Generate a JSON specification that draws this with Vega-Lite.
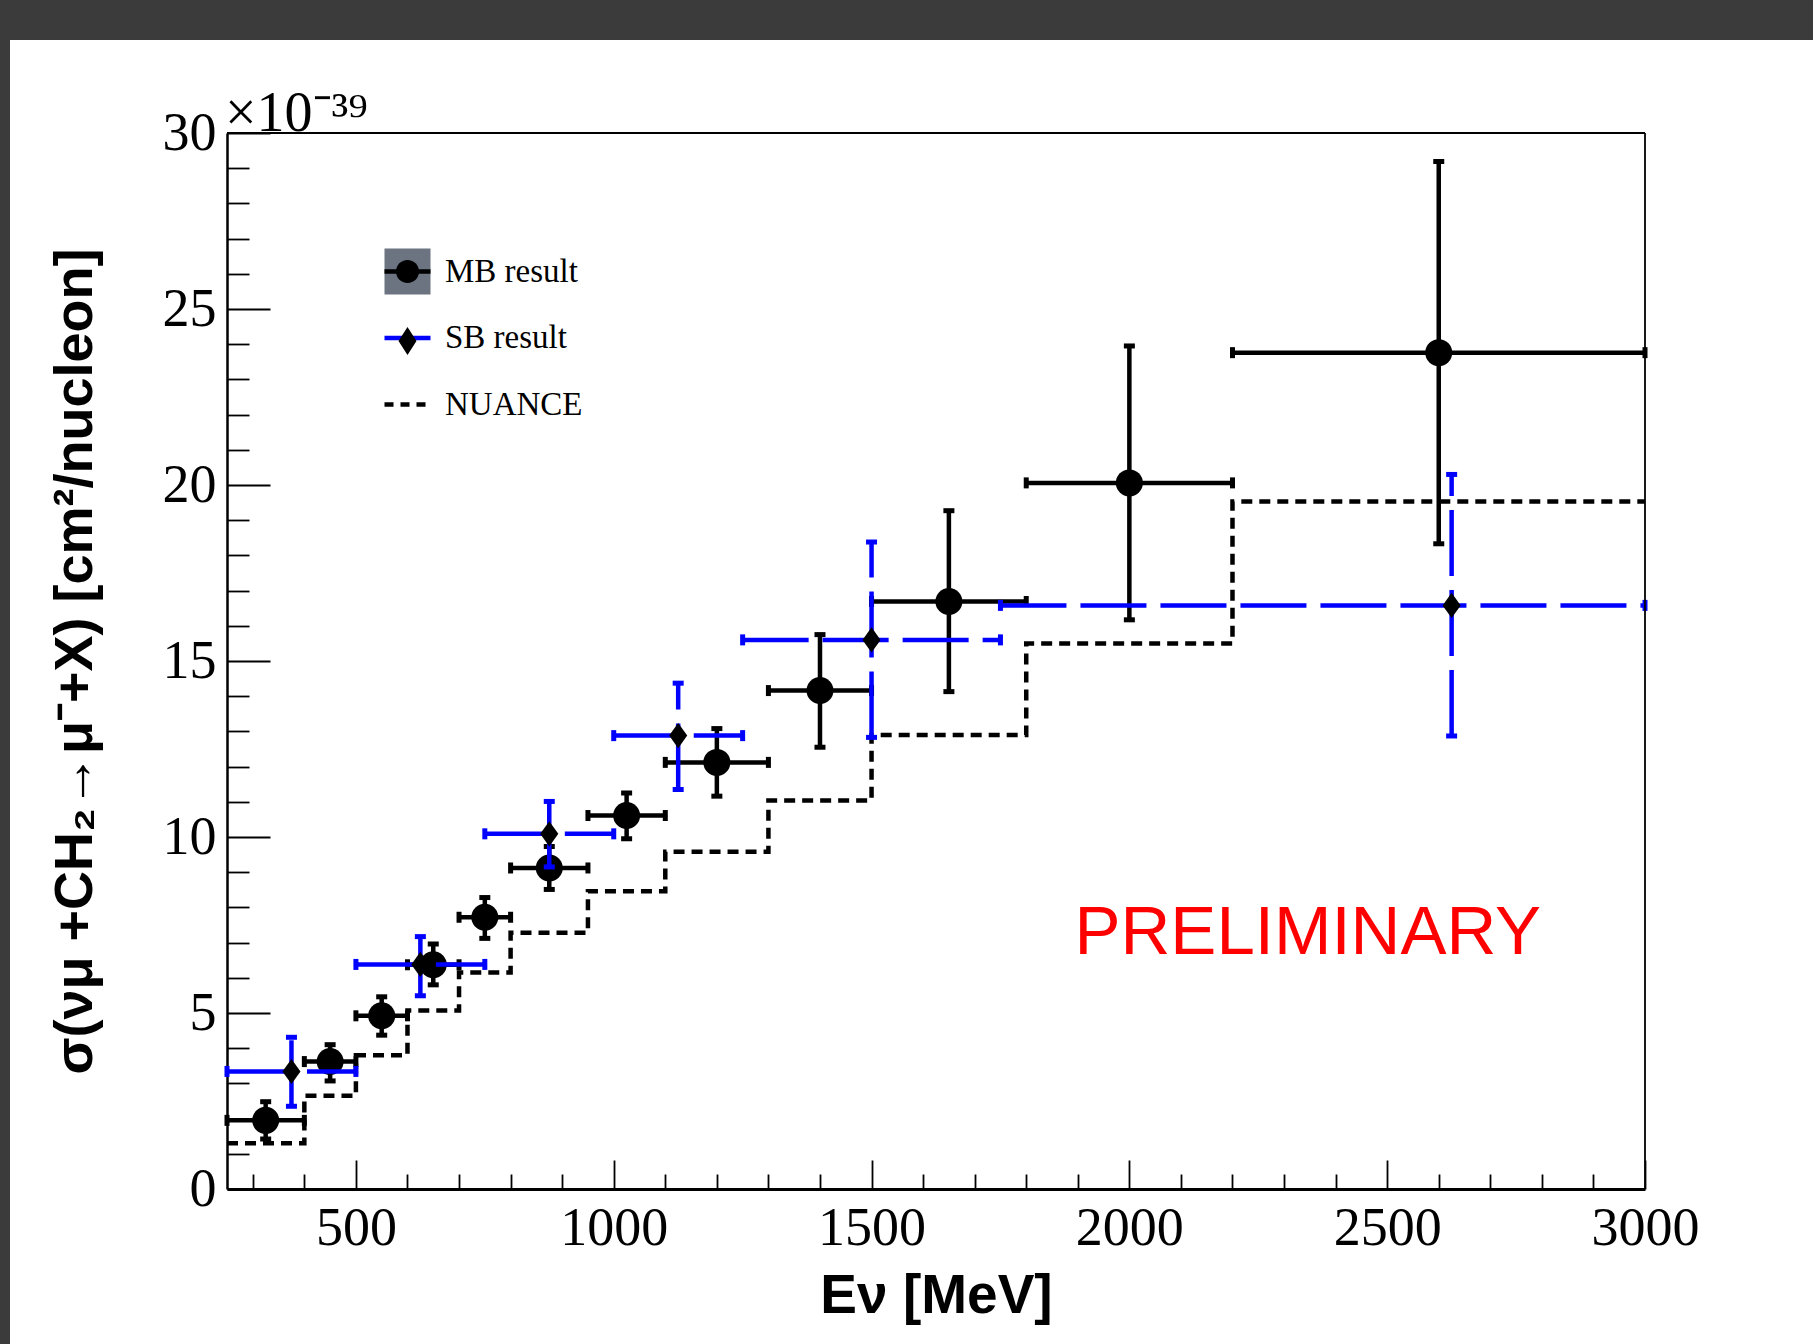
{
  "$schema": "https://vega.github.io/schema/vega-lite/v6.json",
  "width": 1803,
  "height": 1304,
  "autosize": {"type": "none"},
  "padding": {"left": 10, "top": 40, "right": 0, "bottom": 0},
  "background": "#3b3b3b",
  "title": {"text": "×10⁻³⁹", "anchor": "start", "frame": "group", "dx": 215, "offset": -147, "baseline": "alphabetic", "font": "Liberation Serif", "fontSize": 56, "fontWeight": "normal", "color": "#000000"},
  "config": {
    "view": {"fill": "#ffffff", "stroke": null},
    "axis": {"grid": false, "domainColor": "#000000", "tickColor": "#000000", "tickWidth": 1.8, "labelFont": "Liberation Serif", "labelColor": "#000000", "titleFont": "Liberation Sans", "titleFontWeight": "bold", "titleColor": "#000000", "labelFlush": false, "labelOverlap": false, "labelBound": false},
    "legend": {"labelFont": "Liberation Serif", "labelFontSize": 33, "labelColor": "#000000", "symbolSize": 2116, "rowPadding": 23.5, "labelOffset": 12, "padding": 0, "symbolStrokeWidth": 4.5}
  },
  "datasets": {
    "nuance": [
      {"series": "NUANCE", "E": 250, "sigma": 1.30},
      {"series": "NUANCE", "E": 400, "sigma": 2.65},
      {"series": "NUANCE", "E": 500, "sigma": 3.80},
      {"series": "NUANCE", "E": 600, "sigma": 5.07},
      {"series": "NUANCE", "E": 700, "sigma": 6.15},
      {"series": "NUANCE", "E": 800, "sigma": 7.28},
      {"series": "NUANCE", "E": 950, "sigma": 8.46},
      {"series": "NUANCE", "E": 1100, "sigma": 9.58},
      {"series": "NUANCE", "E": 1300, "sigma": 11.04},
      {"series": "NUANCE", "E": 1500, "sigma": 12.90},
      {"series": "NUANCE", "E": 1800, "sigma": 15.50},
      {"series": "NUANCE", "E": 2200, "sigma": 19.53},
      {"series": "NUANCE", "E": 3000, "sigma": 19.53}
    ],
    "res": [
      {"series": "MB result", "E": 325, "lo": 250, "hi": 400, "sigma": 1.95, "slo": 1.42, "shi": 2.48},
      {"series": "MB result", "E": 450, "lo": 400, "hi": 500, "sigma": 3.62, "slo": 3.07, "shi": 4.10},
      {"series": "MB result", "E": 550, "lo": 500, "hi": 600, "sigma": 4.92, "slo": 4.37, "shi": 5.46},
      {"series": "MB result", "E": 650, "lo": 600, "hi": 700, "sigma": 6.37, "slo": 5.80, "shi": 6.96},
      {"series": "MB result", "E": 750, "lo": 700, "hi": 800, "sigma": 7.72, "slo": 7.12, "shi": 8.28},
      {"series": "MB result", "E": 875, "lo": 800, "hi": 950, "sigma": 9.12, "slo": 8.51, "shi": 9.73},
      {"series": "MB result", "E": 1025, "lo": 950, "hi": 1100, "sigma": 10.61, "slo": 9.95, "shi": 11.25},
      {"series": "MB result", "E": 1200, "lo": 1100, "hi": 1300, "sigma": 12.12, "slo": 11.16, "shi": 13.08},
      {"series": "MB result", "E": 1400, "lo": 1300, "hi": 1500, "sigma": 14.16, "slo": 12.55, "shi": 15.75},
      {"series": "MB result", "E": 1650, "lo": 1500, "hi": 1800, "sigma": 16.69, "slo": 14.13, "shi": 19.27},
      {"series": "MB result", "E": 2000, "lo": 1800, "hi": 2200, "sigma": 20.06, "slo": 16.17, "shi": 23.95},
      {"series": "MB result", "E": 2600, "lo": 2200, "hi": 3000, "sigma": 23.76, "slo": 18.33, "shi": 29.19},
      {"series": "SB result", "E": 375, "lo": 250, "hi": 500, "sigma": 3.34, "slo": 2.35, "shi": 4.31},
      {"series": "SB result", "E": 625, "lo": 500, "hi": 750, "sigma": 6.38, "slo": 5.49, "shi": 7.17},
      {"series": "SB result", "E": 875, "lo": 750, "hi": 1000, "sigma": 10.09, "slo": 9.15, "shi": 11.01},
      {"series": "SB result", "E": 1125, "lo": 1000, "hi": 1250, "sigma": 12.88, "slo": 11.35, "shi": 14.37},
      {"series": "SB result", "E": 1500, "lo": 1250, "hi": 1750, "sigma": 15.60, "slo": 12.83, "shi": 18.38},
      {"series": "SB result", "E": 2625, "lo": 1750, "hi": 3000, "sigma": 16.58, "slo": 12.87, "shi": 20.30}
    ],
    "notes": [
      {"label": "PRELIMINARY", "E": 2346, "sigma": 6.67}
    ]
  },
  "layer": [
    {
      "data": {"name": "nuance"},
      "mark": {"type": "line", "interpolate": "step-after", "color": "#000000", "strokeWidth": 4.5, "strokeDash": [11, 7]},
      "encoding": {
        "x": {"field": "E", "type": "quantitative", "title": "Eν [MeV]",
          "scale": {"domain": [250, 3000], "range": [217, 1635], "nice": false, "zero": false},
          "axis": {"orient": "bottom", "offset": -155, "values": [300,400,500,600,700,800,900,1000,1100,1200,1300,1400,1500,1600,1700,1800,1900,2000,2100,2200,2300,2400,2500,2600,2700,2800,2900,3000],
            "format": "d", "labelExpr": "datum.value % 500 === 0 ? datum.label : ''",
            "tickSize": {"condition": {"test": "datum.value % 500 === 0", "value": -29}, "value": -15},
            "labelPadding": 41, "labelFontSize": 54, "titleFontSize": 55, "titlePadding": 0, "domainWidth": 3}},
        "y": {"field": "sigma", "type": "quantitative", "title": "σ(νμ +CH₂→μ⁻+X) [cm²/nucleon]",
          "scale": {"domain": [0, 30], "range": [1149, 93], "nice": false, "zero": false},
          "axis": {"orient": "left", "offset": -217, "values": [0,1,2,3,4,5,6,7,8,9,10,11,12,13,14,15,16,17,18,19,20,21,22,23,24,25,26,27,28,29,30],
            "labelExpr": "datum.value % 5 === 0 ? datum.label : ''",
            "tickSize": {"condition": {"test": "datum.value % 5 === 0", "value": -43}, "value": -22},
            "labelPadding": 54, "labelFontSize": 54, "titleFontSize": 54, "titlePadding": 60, "domainWidth": 2.5}}
      }
    },
    {
      "data": {"name": "res"},
      "transform": [{"filter": "datum.series === 'MB result'"}],
      "mark": {"type": "rule", "color": "#000000", "strokeWidth": 4.5},
      "encoding": {
        "x": {"field": "lo", "type": "quantitative", "title": "Eν [MeV]"},
        "x2": {"field": "hi"},
        "y": {"field": "sigma", "type": "quantitative", "title": "σ(νμ +CH₂→μ⁻+X) [cm²/nucleon]"}
      }
    },
    {
      "data": {"name": "res"},
      "transform": [{"filter": "datum.series === 'MB result'"}],
      "mark": {"type": "rule", "color": "#000000", "strokeWidth": 4.5},
      "encoding": {
        "x": {"field": "E", "type": "quantitative", "title": "Eν [MeV]"},
        "y": {"field": "slo", "type": "quantitative", "title": "σ(νμ +CH₂→μ⁻+X) [cm²/nucleon]"},
        "y2": {"field": "shi"}
      }
    },
    {
      "data": {"name": "res"},
      "transform": [{"filter": "datum.series === 'MB result'"}, {"fold": ["lo", "hi"], "as": ["end", "xe"]}],
      "mark": {"type": "tick", "orient": "vertical", "color": "#000000", "size": 11, "thickness": 5, "opacity": 1},
      "encoding": {
        "x": {"field": "xe", "type": "quantitative", "title": "Eν [MeV]"},
        "y": {"field": "sigma", "type": "quantitative", "title": "σ(νμ +CH₂→μ⁻+X) [cm²/nucleon]"}
      }
    },
    {
      "data": {"name": "res"},
      "transform": [{"filter": "datum.series === 'MB result'"}, {"fold": ["slo", "shi"], "as": ["end", "ye"]}],
      "mark": {"type": "tick", "orient": "horizontal", "color": "#000000", "size": 11, "thickness": 5, "opacity": 1},
      "encoding": {
        "x": {"field": "E", "type": "quantitative", "title": "Eν [MeV]"},
        "y": {"field": "ye", "type": "quantitative", "title": "σ(νμ +CH₂→μ⁻+X) [cm²/nucleon]"}
      }
    },
    {
      "data": {"name": "res"},
      "transform": [{"filter": "datum.series === 'MB result'"}],
      "mark": {"type": "point", "filled": true, "size": 729, "color": "#000000", "opacity": 1, "shape": "circle"},
      "encoding": {
        "x": {"field": "E", "type": "quantitative", "title": "Eν [MeV]"},
        "y": {"field": "sigma", "type": "quantitative", "title": "σ(νμ +CH₂→μ⁻+X) [cm²/nucleon]"}
      }
    },
    {
      "data": {"name": "res"},
      "transform": [{"filter": "datum.series === 'SB result'"}],
      "mark": {"type": "rule", "color": "#0000ff", "strokeWidth": 4.5, "strokeDash": [66, 14]},
      "encoding": {
        "x": {"field": "lo", "type": "quantitative", "title": "Eν [MeV]"},
        "x2": {"field": "hi"},
        "y": {"field": "sigma", "type": "quantitative", "title": "σ(νμ +CH₂→μ⁻+X) [cm²/nucleon]"}
      }
    },
    {
      "data": {"name": "res"},
      "transform": [{"filter": "datum.series === 'SB result'"}],
      "mark": {"type": "rule", "color": "#0000ff", "strokeWidth": 4.5, "strokeDash": [66, 14]},
      "encoding": {
        "x": {"field": "E", "type": "quantitative", "title": "Eν [MeV]"},
        "y": {"field": "slo", "type": "quantitative", "title": "σ(νμ +CH₂→μ⁻+X) [cm²/nucleon]"},
        "y2": {"field": "shi"}
      }
    },
    {
      "data": {"name": "res"},
      "transform": [{"filter": "datum.series === 'SB result'"}, {"fold": ["lo", "hi"], "as": ["end", "xe"]}],
      "mark": {"type": "tick", "orient": "vertical", "color": "#0000ff", "size": 11, "thickness": 5, "opacity": 1},
      "encoding": {
        "x": {"field": "xe", "type": "quantitative", "title": "Eν [MeV]"},
        "y": {"field": "sigma", "type": "quantitative", "title": "σ(νμ +CH₂→μ⁻+X) [cm²/nucleon]"}
      }
    },
    {
      "data": {"name": "res"},
      "transform": [{"filter": "datum.series === 'SB result'"}, {"fold": ["slo", "shi"], "as": ["end", "ye"]}],
      "mark": {"type": "tick", "orient": "horizontal", "color": "#0000ff", "size": 11, "thickness": 5, "opacity": 1},
      "encoding": {
        "x": {"field": "E", "type": "quantitative", "title": "Eν [MeV]"},
        "y": {"field": "ye", "type": "quantitative", "title": "σ(νμ +CH₂→μ⁻+X) [cm²/nucleon]"}
      }
    },
    {
      "data": {"name": "res"},
      "transform": [{"filter": "datum.series === 'SB result'"}],
      "mark": {"type": "point", "filled": true, "size": 729, "color": "#000000", "opacity": 1, "shape": "M0,-0.93L0.67,0L0,0.93L-0.67,0Z"},
      "encoding": {
        "x": {"field": "E", "type": "quantitative", "title": "Eν [MeV]"},
        "y": {"field": "sigma", "type": "quantitative", "title": "σ(νμ +CH₂→μ⁻+X) [cm²/nucleon]"}
      }
    },
    {
      "data": {"name": "notes"},
      "mark": {"type": "text", "font": "Liberation Sans", "fontSize": 69, "color": "#ff0000", "align": "center", "baseline": "alphabetic"},
      "encoding": {
        "x": {"field": "E", "type": "quantitative", "title": "Eν [MeV]"},
        "y": {"field": "sigma", "type": "quantitative", "title": "σ(νμ +CH₂→μ⁻+X) [cm²/nucleon]"},
        "text": {"field": "label"}
      }
    },
    {
      "data": {"values": [{}]},
      "mark": {"type": "rule", "color": "#000000", "strokeWidth": 1.8},
      "encoding": {
        "x": {"datum": 250, "type": "quantitative"},
        "x2": {"datum": 3000},
        "y": {"datum": 30, "type": "quantitative"}
      }
    },
    {
      "data": {"values": [{}]},
      "mark": {"type": "rule", "color": "#000000", "strokeWidth": 1.8},
      "encoding": {
        "x": {"datum": 3000, "type": "quantitative"},
        "y": {"datum": 0, "type": "quantitative"},
        "y2": {"datum": 30}
      }
    },
    {
      "data": {"name": "res"},
      "transform": [{"filter": "false"}],
      "mark": {"type": "point", "filled": true, "shape": "M-1,-1H1V1H-1Z", "opacity": 1},
      "encoding": {
        "x": {"field": "E", "type": "quantitative", "title": "Eν [MeV]"},
        "y": {"field": "sigma", "type": "quantitative", "title": "σ(νμ +CH₂→μ⁻+X) [cm²/nucleon]"},
        "fill": {"field": "series", "type": "nominal",
          "scale": {"domain": ["MB result"], "range": ["#6b7480"]},
          "legend": {"title": null, "orient": "none", "legendX": 372, "legendY": 206, "zindex": 1, "labelOpacity": 0}}
      }
    },
    {
      "data": {"name": "res"},
      "transform": [{"filter": "false"}],
      "mark": {"type": "point", "filled": false, "shape": "M-1,0H1", "strokeWidth": 4.5, "opacity": 1},
      "encoding": {
        "x": {"field": "E", "type": "quantitative", "title": "Eν [MeV]"},
        "y": {"field": "sigma", "type": "quantitative", "title": "σ(νμ +CH₂→μ⁻+X) [cm²/nucleon]"},
        "stroke": {"field": "series", "type": "nominal",
          "scale": {"domain": ["MB result", "SB result", "NUANCE"], "range": ["#000000", "#0000ff", "#000000"]},
          "legend": {"title": null, "orient": "none", "legendX": 372, "legendY": 206, "zindex": 2}},
        "strokeDash": {"field": "series", "type": "nominal",
          "scale": {"domain": ["MB result", "SB result", "NUANCE"], "range": [[1, 0], [1, 0], [9, 7]]},
          "legend": {"title": null, "orient": "none", "legendX": 372, "legendY": 206, "zindex": 2}}
      }
    },
    {
      "data": {"name": "res"},
      "transform": [{"filter": "false"}],
      "mark": {"type": "point", "filled": true, "color": "#000000", "opacity": 1},
      "encoding": {
        "x": {"field": "E", "type": "quantitative", "title": "Eν [MeV]"},
        "y": {"field": "sigma", "type": "quantitative", "title": "σ(νμ +CH₂→μ⁻+X) [cm²/nucleon]"},
        "shape": {"field": "series", "type": "nominal",
          "scale": {"domain": ["MB result", "SB result"], "range": ["M0.5,0A0.5,0.5,0,1,1,-0.5,0A0.5,0.5,0,1,1,0.5,0Z", "M0,-0.61L0.39,0L0,0.61L-0.39,0Z"]},
          "legend": {"title": null, "orient": "none", "legendX": 372, "legendY": 206, "zindex": 3, "labelOpacity": 0}}
      }
    }
  ]
}
